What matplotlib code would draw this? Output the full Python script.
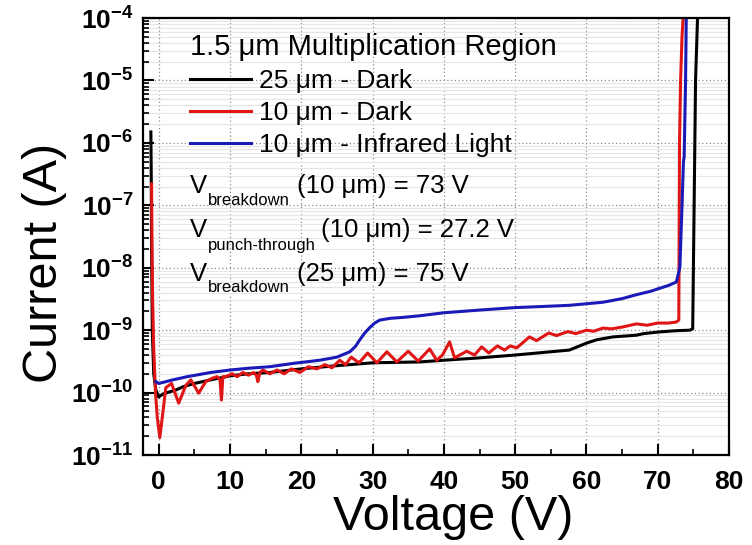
import matplotlib
matplotlib.use("Agg")
import matplotlib.pyplot as plt
from matplotlib.ticker import LogLocator, NullFormatter, MultipleLocator

plt.rcParams['font.family'] = ['Liberation Sans', 'DejaVu Sans']
plt.rcParams['mathtext.fontset'] = 'custom'
plt.rcParams['mathtext.rm'] = 'Liberation Sans'
plt.rcParams['mathtext.bf'] = 'Liberation Sans:bold'

# 25 um - Dark
v_25_dark = [-1.1, -1.05, -1.0, -0.9, -0.7, -0.4, 0.0, 0.6, 1.2, 2.4, 3.5, 5.0, 7.3, 10.0,
             12.5, 15.6, 20.0, 25.0, 30.0, 36.6, 40.0, 45.0, 50.0, 54.0, 57.6, 60.0, 61.4,
             63.7, 67.0, 68.0, 70.3, 72.5, 74.5, 74.9, 75.1, 75.3, 75.6]
i_25_dark = [1.5e-6, 3e-7, 2e-8, 1e-9, 2e-10, 1.1e-10, 8.5e-11, 9.5e-11, 1.0e-10, 1.1e-10,
             1.25e-10, 1.4e-10, 1.6e-10, 1.85e-10, 2.0e-10, 2.1e-10, 2.4e-10, 2.7e-10, 3.0e-10,
             3.1e-10, 3.3e-10, 3.6e-10, 4.0e-10, 4.4e-10, 4.8e-10, 6.2e-10, 7.0e-10, 7.8e-10,
             8.3e-10, 8.8e-10, 9.4e-10, 9.8e-10, 1.0e-9, 1.05e-9, 1e-7, 1e-5, 1.2e-4]

# 10 um - Dark
v_10_dark = [-1.0, -0.95, -0.85, -0.7, -0.45, -0.2, 0.15, 0.5, 1.0, 1.8, 2.8, 3.8, 4.5, 5.6,
             6.6, 7.5, 8.2, 8.6, 8.8, 9.0, 9.4, 10.3, 11.0, 11.8, 12.6, 13.3, 13.7, 13.9, 14.2,
             14.6, 15.6, 16.6, 17.6, 18.6, 19.8, 21.0, 22.2, 23.3, 24.3, 25.4, 26.2, 27.0, 28.1,
             29.3, 30.6, 32.0, 33.4, 35.0, 36.4, 38.0, 39.0, 39.8, 40.8, 41.5, 43.2, 44.3, 45.3,
             46.3, 47.5, 48.5, 49.3, 50.2, 51.0, 52.0, 53.0, 54.7, 55.8, 57.4, 58.5, 60.0, 61.0,
             62.3, 63.5, 65.0, 67.0, 68.5, 70.0, 71.5, 72.6, 72.95, 73.05, 73.2, 73.4, 73.6]
i_10_dark = [2.2e-7, 3e-8, 3e-9, 5e-10, 1e-10, 4e-11, 1.9e-11, 4e-11, 1.2e-10, 1.4e-10, 6.8e-11,
             1.3e-10, 1.6e-10, 9.8e-11, 1.5e-10, 1.7e-10, 1.8e-10, 1.6e-10, 7.6e-11, 1.8e-10,
             1.8e-10, 2.0e-10, 1.8e-10, 2.1e-10, 1.9e-10, 2.1e-10, 1.9e-10, 1.5e-10, 2.1e-10,
             2.3e-10, 2.0e-10, 2.3e-10, 2.0e-10, 2.4e-10, 2.1e-10, 2.6e-10, 2.4e-10, 2.8e-10,
             2.5e-10, 3.3e-10, 2.8e-10, 3.7e-10, 3.0e-10, 4.3e-10, 3.0e-10, 4.5e-10, 3.1e-10,
             4.6e-10, 3.2e-10, 5.0e-10, 3.3e-10, 4.0e-10, 6.5e-10, 3.6e-10, 4.6e-10, 4.0e-10,
             5.4e-10, 4.3e-10, 5.6e-10, 4.8e-10, 5.6e-10, 5.2e-10, 6.2e-10, 7.8e-10, 6.8e-10,
             9.0e-10, 8.2e-10, 9.5e-10, 8.8e-10, 1.0e-9, 9.6e-10, 1.08e-9, 1.05e-9, 1.12e-9,
             1.26e-9, 1.2e-9, 1.3e-9, 1.3e-9, 1.35e-9, 1.45e-9, 1e-6, 1e-5, 5e-5, 1.2e-4]

# 10 um - Infrared Light
v_10_ir = [-0.4, 0.0, 2.0, 4.0, 7.3, 10.0, 12.5, 15.6, 19.0, 22.6, 25.0, 26.8, 27.6, 28.2,
           28.9, 29.6, 30.3, 31.0, 32.5, 34.2, 36.6, 40.0, 45.0, 50.0, 54.0, 57.6, 60.0, 62.3,
           65.0, 67.0, 69.0, 70.3, 71.5, 72.6, 73.1, 73.4, 73.6, 73.7, 73.9, 74.0]
i_10_ir = [1.5e-10, 1.4e-10, 1.6e-10, 1.8e-10, 2.1e-10, 2.3e-10, 2.45e-10, 2.6e-10, 2.95e-10,
           3.3e-10, 3.7e-10, 4.5e-10, 5.5e-10, 7e-10, 9e-10, 1.1e-9, 1.3e-9, 1.45e-9, 1.55e-9,
           1.6e-9, 1.7e-9, 1.9e-9, 2.1e-9, 2.3e-9, 2.4e-9, 2.5e-9, 2.65e-9, 2.8e-9, 3.2e-9,
           3.7e-9, 4.2e-9, 4.7e-9, 5.2e-9, 5.9e-9, 1e-8, 1e-7, 5e-7, 6e-7, 1e-5, 1.2e-4]

x_ticks = [0, 10, 20, 30, 40, 50, 60, 70, 80]
y_ticks = [1e-11, 1e-10, 1e-9, 1e-8, 1e-7, 1e-6, 1e-5, 1e-4]
y_tick_labels = [r'$\mathbf{10^{-11}}$', r'$\mathbf{10^{-10}}$', r'$\mathbf{10^{-9}}$',
                 r'$\mathbf{10^{-8}}$', r'$\mathbf{10^{-7}}$', r'$\mathbf{10^{-6}}$',
                 r'$\mathbf{10^{-5}}$', r'$\mathbf{10^{-4}}$']

fig = plt.figure(figsize=(7.52, 5.45), dpi=100)
ax = fig.add_axes([0.1902, 0.1651, 0.7793, 0.8018])

ax.plot(v_25_dark, i_25_dark, color='black', lw=2.2, label='25 μm - Dark')
ax.plot(v_10_dark, i_10_dark, color='#e01515', lw=2.2, label='10 μm - Dark')
ax.plot(v_10_ir, i_10_ir, color='#1a1ab8', lw=2.2, label='10 μm - Infrared Light')

ax.set_yscale('log')
ax.set_xlim(-2.2, 80)
ax.set_ylim(1e-11, 1e-4)

ax.set_xticks(x_ticks)
ax.set_xticklabels([str(t) for t in x_ticks], fontweight='bold')
ax.xaxis.set_minor_locator(MultipleLocator(5))
ax.set_yticks(y_ticks)
ax.set_yticklabels(y_tick_labels)
ax.yaxis.set_minor_locator(LogLocator(base=10, subs=[2, 3, 4, 5, 6, 7, 8, 9], numticks=20))
ax.yaxis.set_minor_formatter(NullFormatter())

ax.tick_params(which='both', direction='in', top=False, right=False, labelsize=19)
ax.tick_params(which='major', length=8, width=1.5)
ax.tick_params(which='minor', length=4, width=1.2)
ax.tick_params(axis='x', pad=11)
ax.tick_params(axis='y', pad=7)
for s in ax.spines.values():
    s.set_linewidth(1.6)

ax.grid(which='major', axis='both', color='#8c8c8c', linestyle=(0, (1, 2)), linewidth=0.9)
ax.grid(which='minor', axis='y', color='#e6e6e6', linestyle='-', linewidth=0.8)
ax.set_axisbelow(True)

ax.set_xlabel('Voltage (V)', fontsize=35)
ax.set_ylabel('Current (A)', fontsize=35)
ax.xaxis.set_label_coords(0.529, -0.092)
ax.yaxis.set_label_coords(-0.129, 0.44)

ax.legend(title='1.5 μm Multiplication Region', loc='upper left', bbox_to_anchor=(0.08, 0.965),
          frameon=False, fontsize=19, title_fontsize=21, handlelength=2.3, handletextpad=0.3,
          labelspacing=0.3, borderpad=0, borderaxespad=0, alignment='left')

# breakdown / punch-through notes
tr = ax.transAxes
ax.text(0.080, 0.600, 'V', fontsize=18.5, transform=tr, va='baseline')
ax.text(0.111, 0.572, 'breakdown', fontsize=12, transform=tr, va='baseline')
ax.text(0.263, 0.600, '(10 μm) = 73 V', fontsize=18.5, transform=tr, va='baseline')

ax.text(0.080, 0.499, 'V', fontsize=18.5, transform=tr, va='baseline')
ax.text(0.111, 0.469, 'punch-through', fontsize=12, transform=tr, va='baseline')
ax.text(0.303, 0.499, '(10 μm) = 27.2 V', fontsize=18.5, transform=tr, va='baseline')

ax.text(0.080, 0.398, 'V', fontsize=18.5, transform=tr, va='baseline')
ax.text(0.111, 0.373, 'breakdown', fontsize=12, transform=tr, va='baseline')
ax.text(0.263, 0.398, '(25 μm) = 75 V', fontsize=18.5, transform=tr, va='baseline')

fig.savefig('out.png', dpi=100)
